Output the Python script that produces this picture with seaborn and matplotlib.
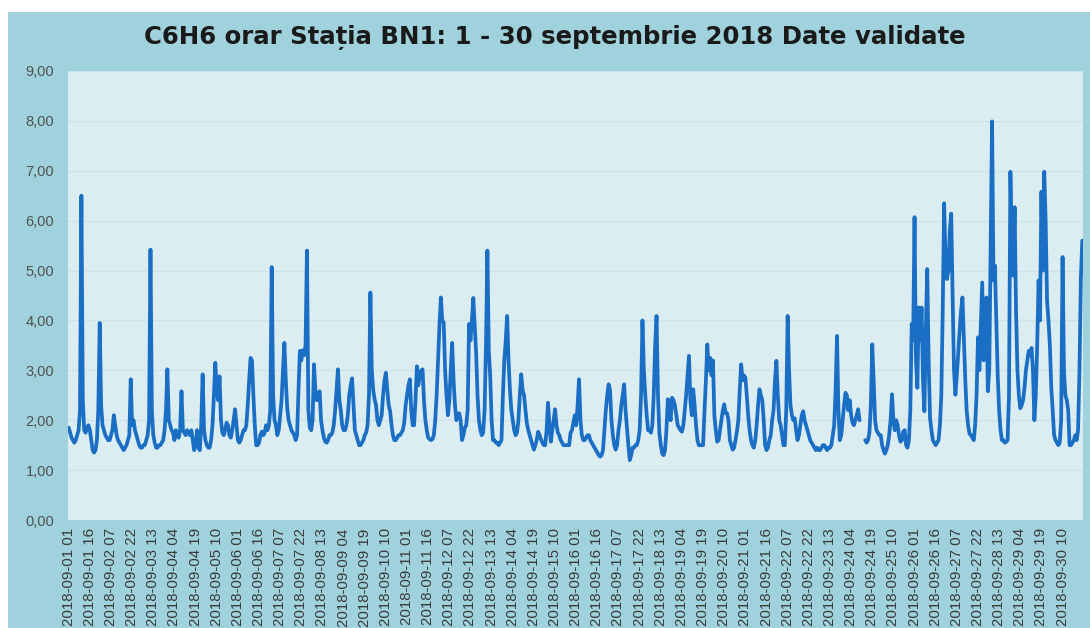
import numpy as np
import pandas as pd
import seaborn as sns
import matplotlib
matplotlib.use("Agg")
import matplotlib.pyplot as plt
from matplotlib.patches import Rectangle

nan = np.nan

# C6H6 hourly values (ug/m3), one row per day
sep01_06 = [
    1.85, 1.75, 1.65, 1.6, 1.55, 1.6, 1.7, 1.8, 2.2, 6.5, 2.4, 1.8, 1.75, 1.85, 1.9, 1.8, 1.6, 1.4, 1.35, 1.4, 1.6, 2.2, 3.95, 2.3,
    1.9, 1.8, 1.7, 1.65, 1.6, 1.6, 1.7, 1.8, 2.1, 1.9, 1.7, 1.6, 1.55, 1.5, 1.45, 1.4, 1.45, 1.5, 1.6, 1.7, 2.82, 1.9, 2.0, 1.8,
    1.7, 1.6, 1.5, 1.45, 1.45, 1.5, 1.5, 1.6, 1.7, 2.0, 5.42, 2.2, 1.7, 1.55, 1.45, 1.45, 1.5, 1.5, 1.55, 1.6, 1.8, 2.2, 3.02, 2.0,
    1.9, 1.8, 1.75, 1.6, 1.8, 1.7, 1.65, 1.8, 2.58, 1.8, 1.75, 1.7, 1.8, 1.75, 1.7, 1.8, 1.6, 1.4, 1.5, 1.8, 1.45, 1.4, 1.9, 2.92,
    1.8, 1.6, 1.5, 1.45, 1.45, 1.6, 1.9, 2.5, 3.15, 2.6, 2.4, 2.88, 2.0, 1.75, 1.7, 1.8, 1.95, 1.9, 1.7, 1.65, 1.8, 2.0, 2.22, 1.9,
    1.6, 1.55, 1.6, 1.7, 1.8, 1.8, 1.9, 2.3, 2.8, 3.25, 3.2, 2.5, 1.9, 1.5, 1.5, 1.55, 1.7, 1.77, 1.7, 1.75, 1.9, 1.8, 1.9, 2.2,
]
sep07_12 = [
    5.07, 2.5, 2.0, 1.9, 1.7, 1.8, 2.1, 2.4, 3.0, 3.55, 2.8, 2.25, 2.0, 1.9, 1.8, 1.75, 1.7, 1.6, 1.7, 2.6, 3.39, 3.2, 3.4, 3.3,
    3.5, 5.4, 2.2, 1.85, 1.8, 2.0, 3.12, 2.6, 2.4, 2.5, 2.58, 2.0, 1.8, 1.65, 1.57, 1.55, 1.6, 1.7, 1.7, 1.75, 1.9, 2.2, 2.6, 3.02,
    2.4, 2.2, 1.9, 1.8, 1.8, 1.9, 2.1, 2.5, 2.7, 2.84, 2.3, 1.8, 1.7, 1.6, 1.5, 1.5, 1.55, 1.6, 1.7, 1.75, 1.9, 2.5, 4.56, 3.0,
    2.6, 2.42, 2.3, 2.0, 1.9, 2.0, 2.1, 2.5, 2.8, 2.95, 2.6, 2.3, 2.18, 1.9, 1.7, 1.6, 1.6, 1.65, 1.7, 1.7, 1.75, 1.8, 1.95, 2.3,
    2.5, 2.7, 2.82, 2.2, 1.9, 1.9, 2.4, 3.08, 2.7, 2.9, 3.0, 3.02, 2.4, 2.0, 1.8, 1.65, 1.62, 1.6, 1.62, 1.7, 2.0, 2.5, 3.2, 3.9,
    4.46, 4.0, 3.96, 3.0, 2.5, 2.1, 2.4, 3.0, 3.55, 2.8, 2.3, 2.0, 2.1, 2.14, 2.0, 1.6, 1.7, 1.85, 1.9, 2.2, 3.93, 3.6, 4.0, 4.45,
]
sep13_18 = [
    3.9, 3.35, 2.5, 2.0, 1.8, 1.7, 1.75, 2.2, 3.5, 5.4, 3.4, 2.88, 2.0, 1.6, 1.6, 1.55, 1.55, 1.5, 1.55, 1.6, 2.5, 3.2, 3.6, 4.09,
    3.2, 2.6, 2.2, 2.0, 1.8, 1.7, 1.75, 2.0, 2.5, 2.92, 2.6, 2.5, 2.2, 1.94, 1.8, 1.7, 1.6, 1.5, 1.41, 1.5, 1.6, 1.77, 1.7, 1.62,
    1.55, 1.5, 1.5, 1.8, 2.35, 1.9, 1.57, 1.8, 2.0, 2.22, 1.9, 1.75, 1.7, 1.6, 1.55, 1.5, 1.5, 1.5, 1.5, 1.5, 1.75, 1.8, 1.95, 2.1,
    1.9, 2.3, 2.82, 2.0, 1.7, 1.6, 1.6, 1.65, 1.7, 1.7, 1.6, 1.55, 1.5, 1.45, 1.4, 1.35, 1.3, 1.27, 1.3, 1.4, 1.8, 2.2, 2.5, 2.72,
    2.6, 2.0, 1.7, 1.5, 1.41, 1.5, 1.8, 2.0, 2.3, 2.5, 2.72, 2.2, 1.85, 1.5, 1.2, 1.3, 1.45, 1.45, 1.5, 1.5, 1.6, 1.8, 2.5, 4.0,
    3.0, 2.5, 2.1, 1.8, 1.8, 1.75, 1.9, 2.5, 3.5, 4.09, 2.5, 1.75, 1.5, 1.33, 1.3, 1.4, 1.8, 2.42, 2.2, 2.0, 2.45, 2.4, 2.3, 2.1,
]
sep19_24 = [
    1.9, 1.85, 1.8, 1.77, 1.9, 2.2, 2.5, 2.9, 3.29, 2.4, 2.1, 2.62, 2.3, 1.9, 1.6, 1.5, 1.5, 1.5, 1.5, 2.18, 2.8, 3.52, 3.0, 3.25,
    2.9, 3.2, 2.1, 1.8, 1.57, 1.6, 1.8, 2.0, 2.2, 2.32, 2.14, 2.14, 2.0, 1.6, 1.5, 1.41, 1.45, 1.6, 1.77, 2.0, 2.6, 3.12, 2.8, 2.9,
    2.85, 2.5, 2.1, 1.8, 1.6, 1.5, 1.45, 1.6, 1.9, 2.3, 2.62, 2.5, 2.4, 2.0, 1.5, 1.4, 1.45, 1.6, 1.7, 2.0, 2.2, 2.8, 3.19, 2.5,
    2.0, 1.9, 1.7, 1.5, 1.5, 2.2, 4.09, 3.0, 2.3, 2.1, 2.0, 2.04, 1.8, 1.6, 1.7, 1.9, 2.1, 2.18, 2.0, 1.9, 1.8, 1.7, 1.6, 1.55,
    1.5, 1.45, 1.4, 1.45, 1.4, 1.4, 1.45, 1.5, 1.5, 1.45, 1.4, 1.45, 1.45, 1.5, 1.7, 1.9, 2.6, 3.69, 2.2, 1.6, 1.7, 2.0, 2.3, 2.55,
    2.5, 2.2, 2.4, 2.1, 1.95, 1.9, 2.0, 2.1, 2.22, 2.0, nan, nan, nan, 1.6, 1.55, 1.6, 1.75, 2.3, 3.52, 2.8, 2.0, 1.8, 1.75, 1.7,
]
sep25_30 = [
    1.7, 1.5, 1.4, 1.33, 1.4, 1.5, 1.7, 2.0, 2.52, 2.0, 1.8, 2.0, 1.9, 1.7, 1.57, 1.6, 1.77, 1.8, 1.5, 1.45, 1.6, 2.2, 3.93, 3.6,
    6.07, 3.2, 2.65, 4.26, 3.6, 4.26, 2.8, 2.18, 3.8, 5.03, 3.2, 2.04, 1.8, 1.6, 1.55, 1.5, 1.55, 1.6, 1.9, 2.5, 4.2, 6.35, 5.2, 4.83,
    5.0, 5.8, 6.14, 4.5, 3.0, 2.51, 2.9, 3.35, 3.8, 4.2, 4.46, 3.6, 2.8, 2.18, 1.9, 1.73, 1.7, 1.65, 1.6, 1.9, 2.5, 3.66, 3.0, 3.9,
    4.76, 3.2, 3.8, 4.46, 2.58, 3.0, 5.5, 7.99, 4.8, 5.1, 4.0, 2.9, 2.2, 1.8, 1.6, 1.6, 1.55, 1.57, 1.6, 2.5, 6.98, 5.5, 4.9, 6.27,
    4.2, 3.0, 2.5, 2.24, 2.3, 2.4, 2.65, 3.0, 3.2, 3.39, 3.3, 3.45, 3.0, 2.0, 2.5, 3.5, 4.8, 4.0, 6.58, 5.0, 6.98, 6.0, 4.4, 4.0,
    3.5, 2.65, 2.2, 1.7, 1.6, 1.55, 1.5, 1.55, 2.0, 5.27, 3.0, 2.5, 2.4, 2.2, 1.5, 1.5, 1.55, 1.6, 1.7, 1.6, 1.8, 3.0, 4.86, 5.6,
]

values = sep01_06 + sep07_12 + sep13_18 + sep19_24 + sep25_30
hours = pd.date_range("2018-09-01 01:00", periods=len(values), freq="h")
hour_labels = [h.strftime("%Y-%m-%d %H") for h in hours]
tick_step = 15

df = pd.DataFrame({"pos": np.arange(len(values)), "c6h6": values})
# split at missing hours so the line breaks there
df["segment"] = df["c6h6"].isna().cumsum()
df = df.dropna()

W, H = 1090, 628
fig = plt.figure(figsize=(W / 100, H / 100), dpi=100)
fig.patch.set_facecolor("white")
fig.patches.append(Rectangle((8 / W, 0), 1, 1 - 12 / H, transform=fig.transFigure,
                             facecolor="#a0d2dd", edgecolor="none", zorder=-10))

sns.set_style("white")
plt.rcParams["font.family"] = ["Liberation Sans", "DejaVu Sans"]

ax = fig.add_axes([68 / W, 1 - 520 / H, (1083 - 68) / W, (520 - 71) / H])
ax.set_zorder(5)
ax.set_facecolor("#dcedf2")

sns.lineplot(data=df, x="pos", y="c6h6", units="segment", estimator=None,
             color="#1a6fc4", linewidth=2.7, ax=ax)

ax.set_xlim(-0.5, len(values) - 0.5)
ax.set_ylim(0, 9)
ax.set_yticks(range(0, 10))
ax.set_yticklabels([f"{v:.2f}".replace(".", ",") for v in range(0, 10)],
                   fontsize=10.5, color="#505050")
ticks = list(range(0, len(values), tick_step))
ax.set_xticks(ticks)
ax.set_xticklabels([hour_labels[t] for t in ticks], rotation=90, fontsize=10.8, color="#3a3a3a")
ax.tick_params(axis="both", length=0)
ax.tick_params(axis="x", pad=6)
ax.tick_params(axis="y", pad=10)
ax.set_xlabel("")
ax.set_ylabel("")
ax.grid(axis="y", color="#cde3ea", linewidth=0.9)
ax.set_axisbelow(True)
for s in ax.spines.values():
    s.set_visible(False)

fig.text(555 / W, 1 - 38 / H, "C6H6 orar Stația BN1: 1 - 30 septembrie 2018 Date validate",
         ha="center", va="center", fontsize=17.6, fontweight="bold", color="#1a1a1a",
         family=["DejaVu Sans"], zorder=6)

fig.savefig("out.png", dpi=100, facecolor=fig.get_facecolor())
